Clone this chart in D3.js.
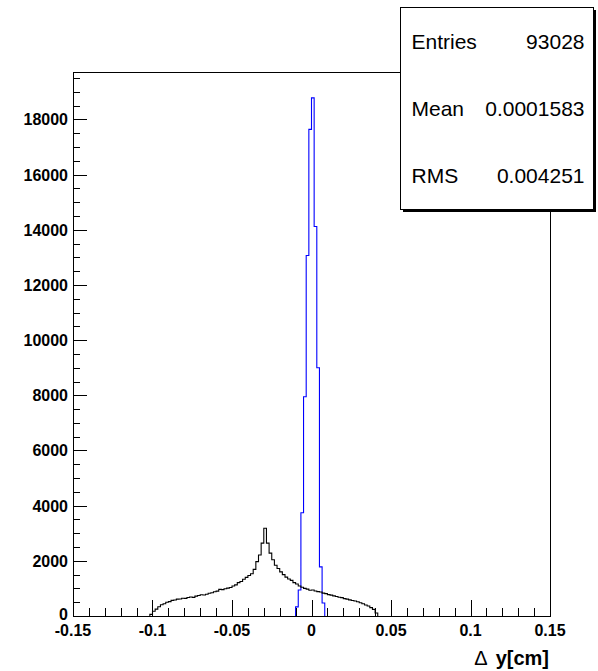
<!DOCTYPE html>
<html>
<head>
<meta charset="utf-8">
<script src="https://cdn.jsdelivr.net/npm/d3@7"></script>
<style>
  html, body { margin: 0; padding: 0; background: #fff; }
  svg { display: block; }
</style>
</head>
<body>
<svg id="chart" width="598" height="671"></svg>
<script>
// ---- data ----
const xMin = -0.15, xMax = 0.15, nBins = 180;
const blueFirstBin = 84;
const blueCounts = [330, 940, 3740, 7950, 13070, 17640, 18780, 14120, 9000, 1780, 470];
const blackFirstBin = 29;
const blackCounts = [
  60, 170, 250, 335, 410, 445, 500, 520, 565, 580,
  610, 615, 645, 640, 670, 690, 675, 720, 745, 770,
  760, 790, 825, 845, 880, 900, 965, 955, 990, 1010,
  1035, 1090, 1130, 1210, 1250, 1330, 1400, 1470, 1530, 1690,
  1970, 2210, 2640, 3180, 2640, 2280, 2040, 1840, 1720, 1600,
  1500, 1410, 1340, 1290, 1210, 1160, 1090, 1040, 1000, 975,
  935, 945, 905, 885, 870, 830, 810, 775, 755, 730,
  705, 680, 665, 630, 610, 585, 560, 545, 515, 480,
  445, 400, 365, 305, 240, 110
];
const xTickValues = [-0.15, -0.1, -0.05, 0, 0.05, 0.1, 0.15];
const xTickLabels = ["-0.15", "-0.1", "-0.05", "0", "0.05", "0.1", "0.15"];
const yTickValues = [0, 2000, 4000, 6000, 8000, 10000, 12000, 14000, 16000, 18000];
const yTickLabels = ["0", "2000", "4000", "6000", "8000", "10000", "12000", "14000", "16000", "18000"];
const statNames = ["Entries", "Mean", "RMS"];
const statValues = ["93028", "0.0001583", "0.004251"];
const xTitleSymbol = "\u0394";
const xTitleText = "y[cm]";

// ---- layout ----
const L = 73, R = 550, T = 72, B = 616;
const binW = (xMax - xMin) / nBins;
const yMax = 1.05 * d3.max(blueCounts);

const x = d3.scaleLinear().domain([xMin, xMax]).range([L, R]);
const y = d3.scaleLinear().domain([0, yMax]).range([B, T]);

const svg = d3.select("#chart");
const font = "'Liberation Sans', Arial, Helvetica, sans-serif";

function stepPoints(first, counts) {
  const pts = [];
  const e0 = xMin + first * binW;
  pts.push([x(e0), y(0)]);
  counts.forEach((c, i) => {
    const a = xMin + (first + i) * binW, b = a + binW;
    pts.push([x(a), y(c)]);
    pts.push([x(b), y(c)]);
  });
  pts.push([x(xMin + (first + counts.length) * binW), y(0)]);
  return pts;
}
const line = d3.line();

// histograms
svg.append("path")
  .attr("d", line(stepPoints(blueFirstBin, blueCounts)))
  .attr("fill", "none").attr("stroke", "#0000ff").attr("stroke-width", 1.1);
svg.append("path")
  .attr("d", line(stepPoints(blackFirstBin, blackCounts)))
  .attr("fill", "none").attr("stroke", "#000").attr("stroke-width", 1.1);

// frame
svg.append("rect")
  .attr("x", L).attr("y", T).attr("width", R - L).attr("height", B - T)
  .attr("fill", "none").attr("stroke", "#000").attr("stroke-width", 1)
  .attr("shape-rendering", "crispEdges");

// x ticks (inward)
const xMinor = d3.range(-15, 16).map(v => v / 100);
const gx = svg.append("g").attr("shape-rendering", "crispEdges");
xMinor.forEach(v => {
  const major = Math.abs(Math.round(v * 100) % 5) === 0;
  gx.append("line")
    .attr("x1", Math.round(x(v)) + 0.5).attr("x2", Math.round(x(v)) + 0.5)
    .attr("y1", B).attr("y2", B - (major ? 16 : 8))
    .attr("stroke", "#000").attr("stroke-width", 1);
});
xTickValues.forEach((v, i) => {
  svg.append("text")
    .attr("x", x(v)).attr("y", 636)
    .attr("text-anchor", "middle")
    .attr("font-family", font).attr("font-weight", "bold").attr("font-size", 16)
    .text(xTickLabels[i]);
});

// y ticks (inward)
const yMinor = d3.range(0, yMax, 500);
const gy = svg.append("g").attr("shape-rendering", "crispEdges");
yMinor.forEach(v => {
  const major = v % 2000 === 0;
  gy.append("line")
    .attr("x1", L).attr("x2", L + (major ? 14 : 7))
    .attr("y1", Math.round(y(v)) + 0.5).attr("y2", Math.round(y(v)) + 0.5)
    .attr("stroke", "#000").attr("stroke-width", 1);
});
yTickValues.forEach((v, i) => {
  svg.append("text")
    .attr("x", L - 5).attr("y", v === 0 ? y(v) + 4 : y(v) + 6)
    .attr("text-anchor", "end")
    .attr("font-family", font).attr("font-weight", "bold").attr("font-size", 16)
    .text(yTickLabels[i]);
});

// x title
const xt = svg.append("text")
  .attr("x", R - 1).attr("y", 665)
  .attr("text-anchor", "end")
  .attr("font-family", font).attr("font-size", 20);
xt.append("tspan").attr("font-weight", "normal").text(xTitleSymbol);
xt.append("tspan").attr("font-weight", "bold").attr("dx", 8).text(xTitleText);

// stats box
const bx = 400, by = 7, bw = 193, bh = 202;
svg.append("rect").attr("x", bx + 3).attr("y", by + 3).attr("width", bw).attr("height", bh)
  .attr("fill", "#000").attr("shape-rendering", "crispEdges");
svg.append("rect").attr("x", bx + 0.5).attr("y", by + 0.5).attr("width", bw).attr("height", bh)
  .attr("fill", "#fff").attr("stroke", "#000").attr("stroke-width", 1)
  .attr("shape-rendering", "crispEdges");
statNames.forEach((n, i) => {
  const yy = by + bh / 6 + i * bh / 3 + 8;
  svg.append("text").attr("x", bx + 11.5).attr("y", yy)
    .attr("font-family", font).attr("font-size", 21).text(n);
  svg.append("text").attr("x", bx + 184.5).attr("y", yy)
    .attr("text-anchor", "end")
    .attr("font-family", font).attr("font-size", 21).text(statValues[i]);
});
</script>
</body>
</html>
